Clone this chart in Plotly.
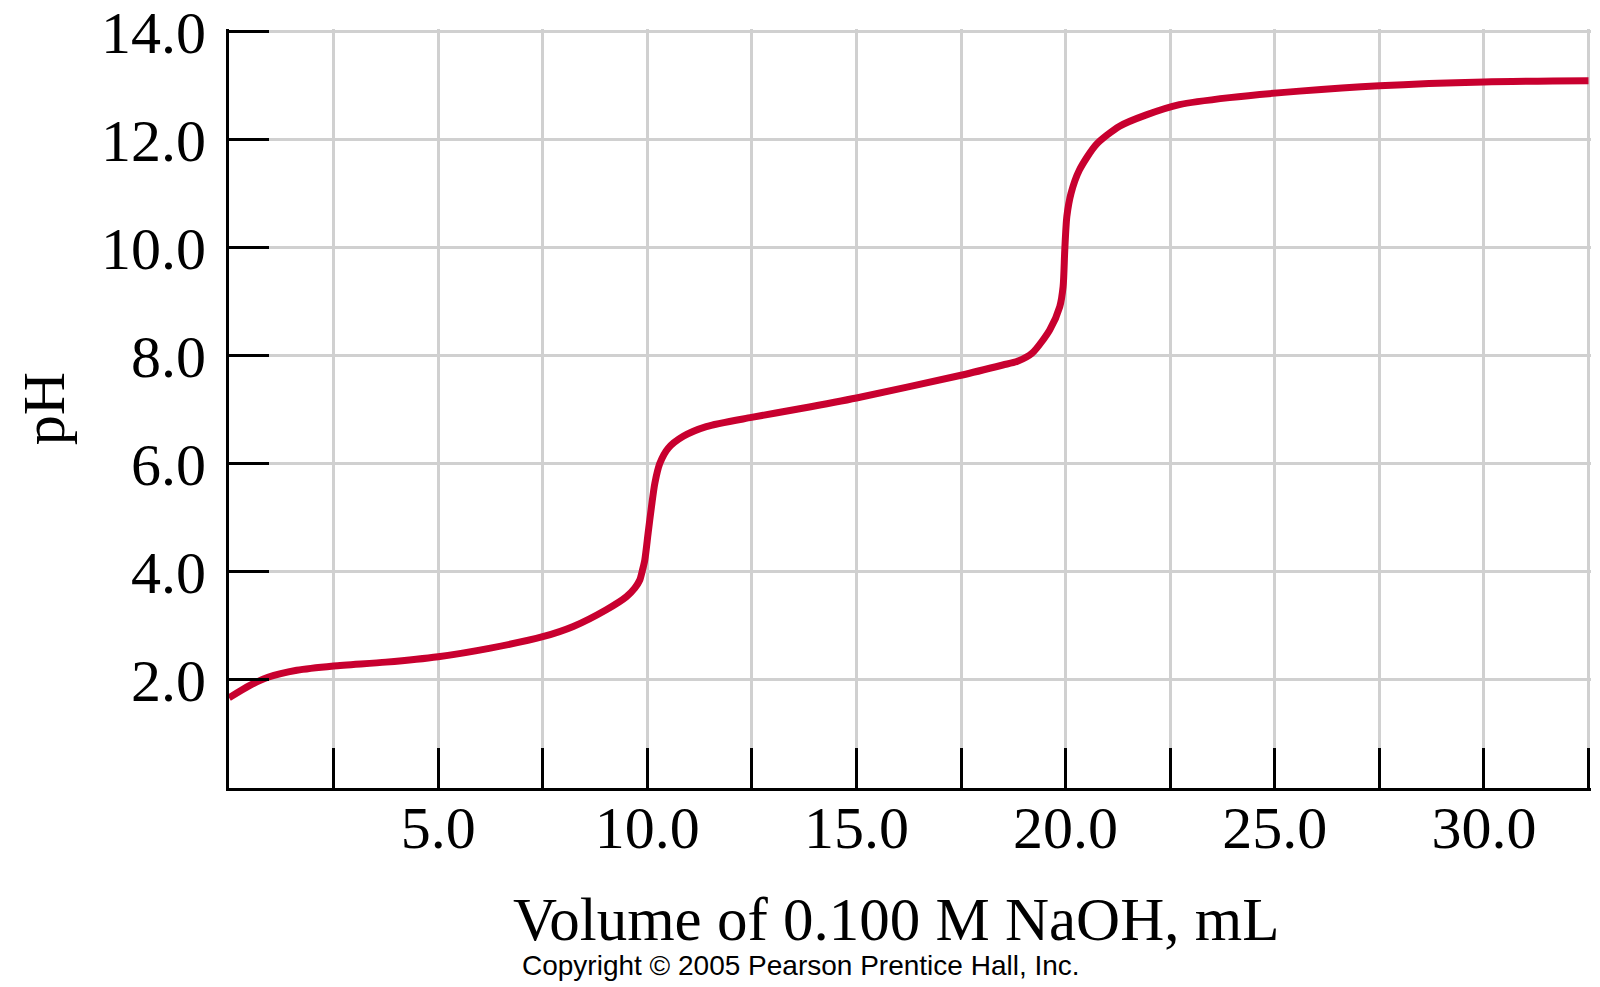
import plotly.graph_objects as go

# Titration curve data
volume_ml = [0.0, 0.5, 0.93, 1.62, 2.5, 3.75, 5.0, 6.25, 7.5, 8.23, 9.02, 9.5,
             9.70, 9.82, 9.88, 9.94, 10.02, 10.10, 10.18, 10.30, 10.50, 10.86,
             11.41, 12.49, 13.64, 15.0, 17.5, 18.5, 18.85, 19.2, 19.62, 19.86,
             19.94, 19.98, 20.03, 20.13, 20.33, 20.73, 21.29, 21.93, 22.72,
             23.92, 25.59, 27.5, 30.0, 32.5]
ph_values = [1.67, 1.90, 2.05, 2.18, 2.26, 2.33, 2.43, 2.59, 2.80, 2.99, 3.30, 3.54,
             3.70, 3.85, 4.02, 4.22, 4.72, 5.21, 5.64, 6.01, 6.29, 6.51,
             6.69, 6.86, 7.02, 7.22, 7.64, 7.83, 7.90, 8.05, 8.48, 8.91,
             9.28, 9.96, 10.58, 11.01, 11.44, 11.91, 12.25, 12.46, 12.65,
             12.78, 12.90, 13.00, 13.07, 13.09]

x_tickvals = [0, 2.5, 5.0, 7.5, 10.0, 12.5, 15.0, 17.5, 20.0, 22.5, 25.0, 27.5, 30.0, 32.5]
x_ticktext = ["", "", "5.0", "", "10.0", "", "15.0", "", "20.0", "", "25.0", "", "30.0", ""]
y_tickvals = [0, 2, 4, 6, 8, 10, 12, 14]
y_ticktext = ["", "2.0", "4.0", "6.0", "8.0", "10.0", "12.0", "14.0"]

SERIF = "Liberation Serif, Times New Roman, serif"

# The page body has an 8px margin, so the figure is sized to fit the window.
OFF = 8
W, H = 1600 - OFF, 987 - OFF
L, R, T, B = 229 - OFF, 9, 29 - OFF, 199
PW, PH = W - L - R, H - T - B
PLOT_LEFT, PLOT_BOTTOM = L + OFF, OFF + H - B   # page pixels


def px_x(page_x):
    return (page_x - PLOT_LEFT) / PW


def px_y(page_y):
    return (PLOT_BOTTOM - page_y) / PH


fig = go.Figure()
fig.add_trace(go.Scatter(
    x=volume_ml, y=ph_values, mode="lines",
    line=dict(color="#c8002f", width=7, shape="spline", smoothing=0.7),
    hoverinfo="skip", showlegend=False,
))

fig.update_layout(
    width=W, height=H,
    paper_bgcolor="white", plot_bgcolor="white",
    margin=dict(l=L, r=R, t=T, b=B, autoexpand=False),
    showlegend=False,
    annotations=[
        dict(text="Volume of 0.100 M NaOH, mL",
             xref="paper", yref="paper", x=px_x(896), y=px_y(919),
             xanchor="center", yanchor="middle", showarrow=False,
             font=dict(family=SERIF, size=61, color="black")),
        dict(text="Copyright © 2005 Pearson Prentice Hall, Inc.",
             xref="paper", yref="paper", x=px_x(801), y=px_y(965),
             xanchor="center", yanchor="middle", showarrow=False,
             font=dict(family="Liberation Sans, Arial, sans-serif", size=28, color="black")),
    ],
)

fig.update_xaxes(
    range=[0, 32.56], tickmode="array", tickvals=x_tickvals, ticktext=x_ticktext,
    showgrid=True, gridcolor="#d0d0d0", gridwidth=3, zeroline=False,
    showline=True, linecolor="black", linewidth=3,
    ticks="inside", ticklen=40, tickwidth=3, tickcolor="black",
    tickfont=dict(family=SERIF, size=60, color="black"),
    ticklabelstandoff=-15, automargin=False, ticklabeloverflow="allow",
)
fig.update_yaxes(
    range=[0, 14.05], tickmode="array", tickvals=y_tickvals, ticktext=y_ticktext,
    showgrid=True, gridcolor="#d0d0d0", gridwidth=3, zeroline=False,
    showline=True, linecolor="black", linewidth=3,
    ticks="inside", ticklen=40, tickwidth=3, tickcolor="black",
    tickfont=dict(family=SERIF, size=60, color="black"),
    ticklabelstandoff=8, automargin=False, ticklabeloverflow="allow",
    title=dict(text="pH", standoff=18,
               font=dict(family=SERIF, size=60, color="black")),
)

fig.write_html("out.html")
